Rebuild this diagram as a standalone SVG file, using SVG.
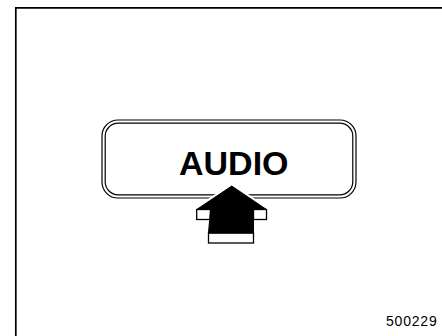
<svg xmlns="http://www.w3.org/2000/svg" width="442" height="336" viewBox="0 0 442 336">
  <style>
    .line { fill: none; stroke: #000; stroke-width: 1.2; }
    .face { fill: #fff; stroke: #000; stroke-width: 1.3; stroke-linejoin: miter; }
    .label { font-family: "Liberation Sans", Arial, sans-serif; fill: #000; }
  </style>
  <rect width="442" height="336" fill="#fff"/>
  <g id="frame">
    <path d="M15.8,336 V7.8 H442" fill="none" stroke="#000" stroke-width="1.7"/>
  </g>
  <g id="audio-button">
    <rect class="line" x="102" y="120" width="254" height="78" rx="16" ry="16"/>
    <rect class="line" x="105.2" y="123.2" width="247.6" height="71.6" rx="13" ry="13"/>
    <text class="label" x="179" y="175" font-size="34" font-weight="bold">AUDIO</text>
  </g>
  <g id="arrow">
    <polygon points="231.7,186 196.7,209.5 210.5,209.5 208.5,233 253.5,233 253.5,209.5 266.5,209.5" fill="#fff" stroke="#fff" stroke-width="5" stroke-linejoin="round"/>
    <rect class="face" x="196.7" y="209.5" width="13.8" height="10"/>
    <rect class="face" x="253.5" y="209.5" width="13" height="10"/>
    <rect class="face" x="208.5" y="233" width="45" height="10"/>
    <polygon points="231.7,186 196.7,209.5 210.5,209.5 208.5,233 253.5,233 253.5,209.5 266.5,209.5" fill="#000" stroke="#000" stroke-width="1" stroke-linejoin="miter"/>
  </g>
  <g id="figure-number">
    <text class="label" x="386" y="326" font-size="14" letter-spacing="0.8">500229</text>
  </g>
</svg>
